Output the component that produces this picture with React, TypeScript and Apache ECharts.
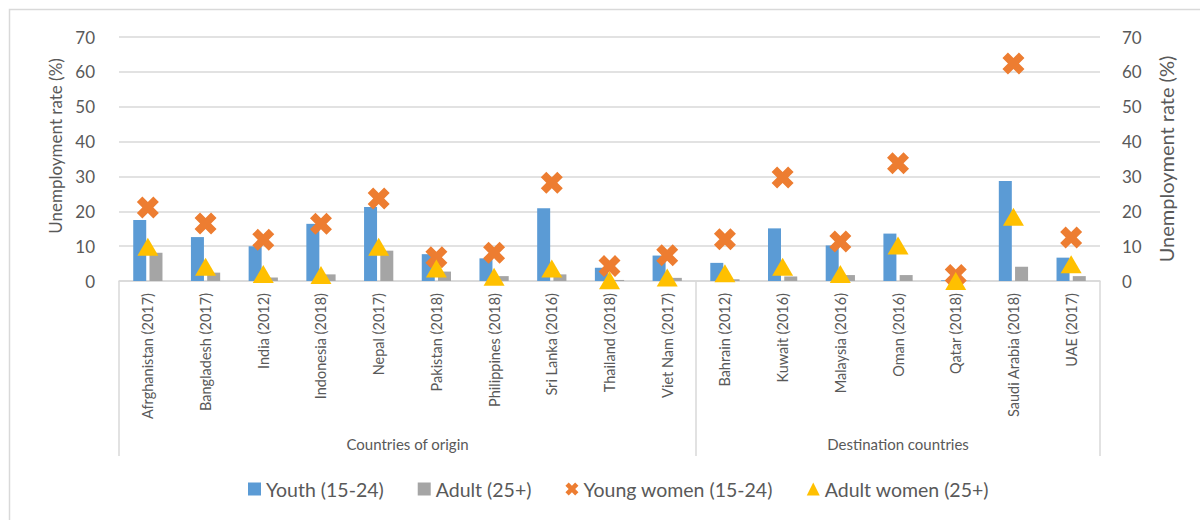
import React, { useEffect, useRef } from "react";
import * as echarts from "echarts";

const categories = [
  "Afrghanistan (2017)",
  "Bangladesh (2017)",
  "India (2012)",
  "Indonesia (2018)",
  "Nepal (2017)",
  "Pakistan (2018)",
  "Philippines (2018)",
  "Sri Lanka (2016)",
  "Thailand (2018)",
  "Viet Nam (2017)",
  "Bahrain (2012)",
  "Kuwait (2016)",
  "Malaysia (2016)",
  "Oman (2016)",
  "Qatar (2018)",
  "Saudi Arabia (2018)",
  "UAE (2017)",
];
const youth = [17.5, 12.6, 10.0, 16.4, 21.2, 7.7, 6.5, 20.9, 3.8, 7.3, 5.2, 15.1, 10.2, 13.6, 0.2, 28.7, 6.7];
const adult = [8.1, 2.4, 1.0, 1.9, 8.7, 2.7, 1.4, 1.9, 0.3, 0.9, 0.5, 1.3, 1.7, 1.7, 0.1, 4.1, 1.4];
const youngWomen = [21.1, 16.5, 11.8, 16.4, 23.7, 6.8, 8.1, 28.2, 4.3, 7.4, 12.0, 29.7, 11.3, 33.8, 1.7, 62.4, 12.5];
const adultWomen = [9.8, 4.1, 2.0, 1.7, 9.8, 3.6, 1.2, 3.6, 0.2, 1.0, 2.2, 4.1, 2.0, 10.2, 0.0, 18.4, 4.8];
const groupLabels = ["Countries of origin", "Destination countries"];
const groupSizes = [10, 7];
const seriesNames = ["Youth (15-24)", "Adult (25+)", "Young women (15-24)", "Adult women (25+)"];
const yTicks = { min: 0, max: 70, interval: 10 };
const yAxisName = "Unemployment rate (%)";

const TEXT = "#595959";
const GRID = "#d9d9d9";
const FONT = "Lato, 'Liberation Sans', sans-serif";
const CROSS =
  "path://M0,6 L6,0 L12,6 L18,0 L24,6 L18,12 L24,18 L18,24 L12,18 L6,24 L0,18 L6,12 Z";

export default function App() {
  const ref = useRef<HTMLDivElement>(null);
  useEffect(() => {
    document.body.style.margin = "0";
    document.body.style.overflow = "hidden";
    const chart = echarts.init(ref.current!, undefined, { renderer: "svg" });
    const n = categories.length;
    const split = groupSizes[0];
    // half-band positions of the group label centres
    const g1 = groupSizes[0];
    const g2 = groupSizes[0] * 2 + groupSizes[1];
    chart.setOption({
      animation: false,
      backgroundColor: "#fff",
      textStyle: { fontFamily: FONT },
      grid: { left: 119, right: 100, top: 37, bottom: 239, containLabel: false },
      graphic: [
        {
          type: "rect",
          silent: true,
          shape: { x: 9.5, y: 9.5, width: 1200, height: 600 },
          style: { fill: "none", stroke: GRID, lineWidth: 1.5 },
        },
      ],
      legend: {
        data: [
          { name: seriesNames[0], icon: "rect" },
          { name: seriesNames[1], icon: "rect" },
          { name: seriesNames[2], icon: CROSS },
          { name: seriesNames[3], icon: "triangle" },
        ],
        left: 243,
        top: 474,
        itemWidth: 13,
        itemHeight: 13,
        itemGap: 34,
        textStyle: { color: TEXT, fontSize: 19.5, fontFamily: FONT },
      },
      xAxis: [
        {
          type: "category",
          data: categories,
          axisLine: { show: true, lineStyle: { color: GRID, width: 1.5 } },
          axisTick: {
            show: true,
            length: 175,
            interval: (i: number) => i === 0 || i === split,
            lineStyle: { color: GRID, width: 1.5 },
          },
          axisLabel: {
            rotate: 90,
            interval: 0,
            margin: 12,
            color: TEXT,
            fontSize: 14.5,
            fontFamily: FONT,
          },
        },
        {
          type: "value",
          position: "bottom",
          min: 0,
          max: n * 2,
          interval: 1,
          offset: 150,
          axisLine: { show: false },
          axisTick: { show: false },
          splitLine: { show: false },
          axisLabel: {
            margin: 5,
            color: TEXT,
            fontSize: 15,
            fontFamily: FONT,
            formatter: (v: number) => (v === g1 ? groupLabels[0] : v === g2 ? groupLabels[1] : ""),
          },
        },
      ],
      yAxis: [
        {
          type: "value",
          ...yTicks,
          name: yAxisName,
          nameLocation: "middle",
          nameGap: 52,
          nameTextStyle: { color: TEXT, fontSize: 17, fontFamily: FONT, padding: [0, 0, 0, 26] },
          axisLine: { show: false },
          axisTick: { show: false },
          axisLabel: { color: TEXT, fontSize: 17, margin: 24, fontFamily: FONT },
          splitLine: { show: true, lineStyle: { color: GRID, width: 1.5 } },
        },
        {
          type: "value",
          ...yTicks,
          position: "right",
          name: yAxisName,
          nameLocation: "middle",
          nameGap: 56,
          nameTextStyle: { color: TEXT, fontSize: 20, fontFamily: FONT },
          axisLine: { show: false },
          axisTick: { show: false },
          axisLabel: { color: TEXT, fontSize: 17, margin: 22, fontFamily: FONT },
          splitLine: { show: false },
        },
      ],
      series: [
        {
          name: seriesNames[0],
          type: "bar",
          data: youth,
          barWidth: 13,
          barGap: "25%",
          itemStyle: { color: "#5b9bd5" },
        },
        {
          name: seriesNames[1],
          type: "bar",
          data: adult,
          barWidth: 13,
          barGap: "25%",
          itemStyle: { color: "#a5a5a5" },
        },
        {
          name: seriesNames[2],
          type: "scatter",
          data: youngWomen,
          symbol: CROSS,
          symbolSize: 22,
          itemStyle: { color: "#ed7d31", opacity: 1 },
          z: 3,
        },
        {
          name: seriesNames[3],
          type: "scatter",
          data: adultWomen,
          symbol: "triangle",
          symbolSize: [21, 18],
          itemStyle: { color: "#ffc000", opacity: 1 },
          z: 4,
        },
      ],
    });
    return () => chart.dispose();
  }, []);
  return <div ref={ref} style={{ width: 1200, height: 520 }} />;
}
